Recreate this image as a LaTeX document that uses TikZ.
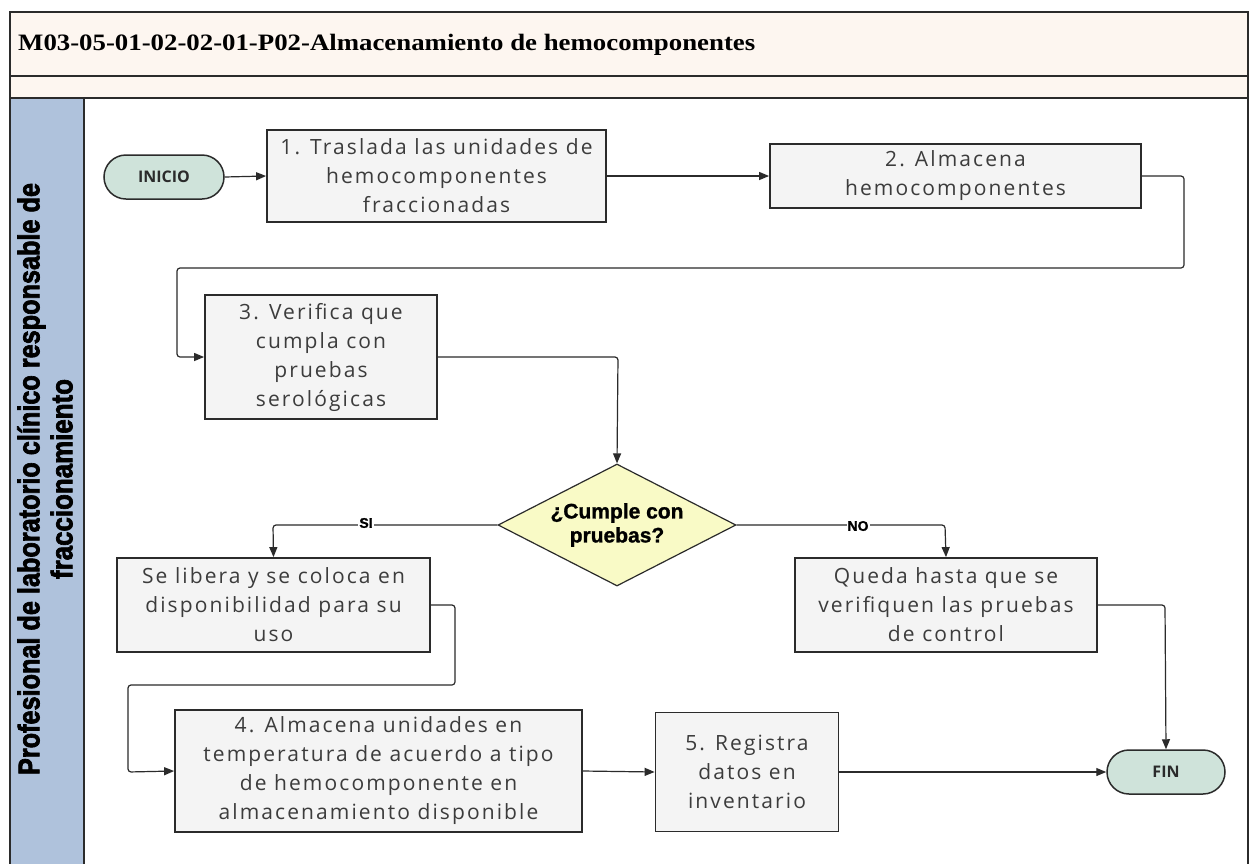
\documentclass[tikz,border=0pt]{standalone}
\usepackage{fontspec}
\usepackage{graphicx}
\setmainfont{Liberation Serif}
\newfontfamily\boxfont[LetterSpace=10]{Open Sans}
\newfontfamily\termfont{Open Sans}
\newfontfamily\heavyf[FakeBold=2.5]{Liberation Sans Bold}
\newfontfamily\semif[FakeBold=1.2]{Liberation Sans Bold}
\usetikzlibrary{shapes.geometric,arrows.meta}
\definecolor{cream}{HTML}{FDF6F0}
\definecolor{lane}{HTML}{AFC2DC}
\definecolor{boxfill}{HTML}{F4F4F4}
\definecolor{termfill}{HTML}{CFE3DA}
\definecolor{diafill}{HTML}{F9FAC6}
\definecolor{txt}{HTML}{3C3C3C}
\definecolor{edge}{HTML}{2B2B2B}
\tikzset{
  proc/.style={draw=edge, line width=1.8pt, fill=boxfill, align=center, inner sep=2pt,
    font=\boxfont\fontsize{21}{29}\selectfont, text=txt},
  term/.style={draw=edge, line width=1.5pt, fill=termfill, rounded corners=22pt,
    minimum width=120pt, minimum height=44pt, font=\termfont\bfseries\fontsize{16}{18}\selectfont, text=edge},
  dec/.style={diamond, draw=edge, line width=1.2pt, fill=diafill, inner sep=0pt,
    aspect=1.95, minimum width=238pt, minimum height=122pt, align=center,
    font=\semif\fontsize{21}{24}\selectfont},
  conn/.style={draw=edge, line width=1.2pt, rounded corners=3pt, -{Triangle[length=10pt,width=8pt]}},
  lbl/.style={fill=white, inner sep=1pt, font=\semif\fontsize{14}{16}\selectfont},
  frame/.style={draw=edge, line width=1.4pt}
}
\begin{document}
\begin{tikzpicture}[x=1pt,y=-1pt]
\useasboundingbox (0,0) rectangle (1251,863);
% frame
\path[fill=white] (10,12) rectangle (1248,870);
\draw[frame, fill=cream] (10,12) rectangle (1248,76);
\draw[frame, fill=cream] (10,76) rectangle (1248,98);
\draw[frame, fill=lane] (10,98) rectangle (84,870);
\draw[frame] (1248,98) -- (1248,870);
\node[anchor=west, inner sep=0pt, font=\bfseries\fontsize{23.5}{26}\selectfont] (title) at (18,45) {\resizebox{737pt}{\height}{M03-05-01-02-02-01-P02-Almacenamiento de hemocomponentes}};
% lane label
\node[rotate=90, align=center, inner sep=0pt, font=\heavyf\fontsize{30}{35}\selectfont] (lanelbl) at (45,479)
  {\resizebox{592pt}{\height}{Profesional de laboratorio clínico responsable de}\\[-2pt]
   \resizebox{200pt}{\height}{fraccionamiento}};
% nodes
\node[term] (inicio) at (164,177) {INICIO};
\node[proc, minimum width=339pt, minimum height=92pt] (b1) at (436.5,176) {1. Traslada las unidades de\\hemocomponentes\\fraccionadas};
\node[proc, minimum width=371pt, minimum height=64pt] (b2) at (955.5,176) {2. Almacena\\hemocomponentes};
\node[proc, minimum width=232pt, minimum height=124pt] (b3) at (321,357) {3. Verifica que\\cumpla con\\pruebas\\serológicas};
\node[dec] (dia) at (617,525) {¿Cumple con\\pruebas?};
\node[proc, minimum width=313pt, minimum height=94pt] (b6) at (273.5,605) {Se libera y se coloca en\\disponibilidad para su\\uso};
\node[proc, minimum width=302pt, minimum height=94pt] (b7) at (946,605) {Queda hasta que se\\verifiquen las pruebas\\de control};
\node[proc, minimum width=407pt, minimum height=122pt] (b4) at (378.5,771) {4. Almacena unidades en\\temperatura de acuerdo a tipo\\de hemocomponente en\\almacenamiento disponible};
\node[proc, minimum width=183pt, minimum height=119pt] (b5) at (747,772) {5. Registra\\datos en\\inventario};
\node[term, minimum width=118pt] (fin) at (1166,772) {FIN};
% connectors
\draw[conn] (inicio.east) -- (b1.west);
\draw[conn] (b1.east) -- (b2.west);
\draw[conn] (b2.east) -- (1184,176) -- (1184,268) -- (177,268) -- (177,357) -- (b3.west);
\draw[conn] (b3.east) -- (618,357) -- (dia.north);
\draw[conn] (dia.west) -- (273,525) -- (b6.north);
\draw[conn] (dia.east) -- (945,525) -- (b7.north);
\node[lbl] (si) at (366,523) {SI};
\node[lbl] (no) at (858,526) {NO};
\draw[conn] (b6.east) -- (455,605) -- (455,685) -- (128,685) -- (128,772) -- (b4.west);
\draw[conn] (b4.east) -- (b5.west);
\draw[conn] (b5.east) -- (fin.west);
\draw[conn] (b7.east) -- (1165,605) -- (fin.north);
\end{tikzpicture}
\end{document}
